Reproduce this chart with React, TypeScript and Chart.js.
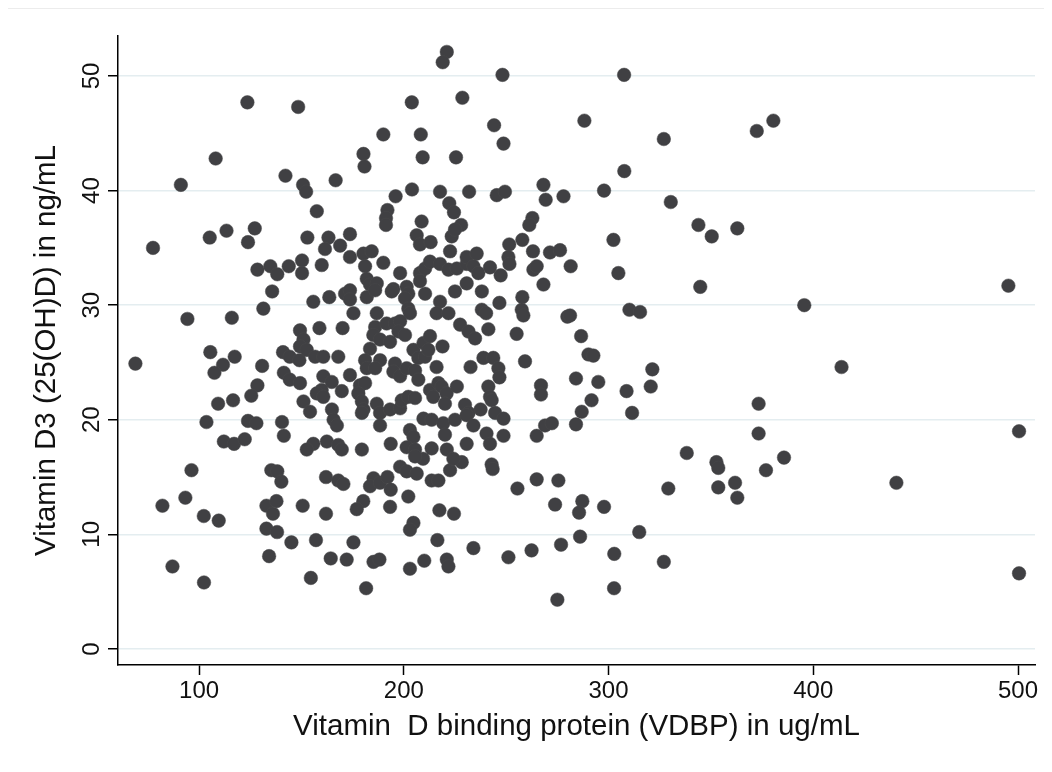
import React, { useEffect, useRef } from "react";
import { Chart, registerables } from "chart.js";

Chart.register(...registerables);

const xTitle = "Vitamin  D binding protein (VDBP) in ug/mL";
const yTitle = "Vitamin D3 (25(OH)D) in ng/mL";
const xTicks = [100, 200, 300, 400, 500];
const yTicks = [0, 10, 20, 30, 40, 50];

const vdbp = [
  123.6, 148.4, 108.1, 91.1, 142.2, 150.8, 152.3, 105.2, 113.4, 127.2, 123.9, 77.5,
  128.5, 134.8, 138.2, 143.8, 135.7, 131.4, 94.3, 116.0, 68.9, 105.5, 111.7, 107.5, 117.4, 130.8, 141.0, 144.3, 149.0, 141.4, 144.3, 128.5, 125.5, 109.3, 116.6, 103.6, 123.9, 128.0, 140.5, 141.4, 112.1, 117.1, 122.3,
  96.3, 93.3, 82.1, 102.3, 109.6, 87.0, 102.4, 135.3, 138.2, 140.2, 132.9, 137.8, 136.1, 132.9, 138.1, 145.1, 134.2,
  221.0, 219.0, 228.6, 203.9, 190.0, 208.3, 180.3, 180.8, 209.2, 225.5, 166.7, 196.0, 204.0, 217.7, 231.9, 157.5, 192.0, 191.3, 191.3, 222.2, 224.5, 228.0, 152.9, 163.2, 173.7, 161.5, 168.9, 208.7, 206.3, 207.9, 213.1, 223.4, 225.0,
  248.2, 307.6, 244.1, 288.2, 248.7, 327.0, 307.7, 245.4, 249.4, 268.2, 269.3, 278.0, 297.8, 262.8, 261.3, 251.5, 257.9, 263.1, 271.4, 276.3, 302.4,
  372.4, 380.5, 330.4, 343.9, 350.4, 362.9,
  344.8, 495.3, 395.6, 413.8, 373.3, 373.3, 500.5, 338.2, 352.7, 353.6, 385.7,
  329.2, 353.6, 361.8, 362.9, 376.9, 440.6, 327.0, 500.5,
  242.1, 251.1, 251.6, 247.3, 263.3, 264.9, 281.5, 304.8, 268.2, 238.1, 257.9, 246.7, 257.6, 258.4, 238.1, 240.2, 310.2, 315.4, 279.9, 281.2, 241.3, 255.1, 286.6, 290.2, 292.6, 238.9, 243.7, 259.2, 246.2, 246.7, 321.4, 284.1, 295.0, 320.6, 267.0, 267.0, 241.3, 242.1, 308.8, 291.7, 286.9, 311.5, 242.9, 237.5, 244.6, 248.7, 284.1, 269.0, 272.3, 264.9, 248.7, 240.4, 242.1,
  242.9, 243.4, 255.5, 264.9, 275.5, 273.9, 287.2, 285.6, 297.8, 315.0, 286.1, 276.8, 262.4, 251.1, 302.8, 302.7, 275.0,
  162.0, 168.0, 170.5, 185.2, 183.5, 188.4, 192.0, 193.6, 198.2, 201.4, 206.3, 209.4, 213.6, 216.9, 222.6, 228.3, 180.2, 177.0, 193.3, 202.2, 150.6, 162.0, 217.4, 224.5, 204.7, 203.0, 157.1, 175.4, 216.4, 234.0, 164.3, 172.1, 185.2, 188.1, 203.0, 210.0, 221.0, 221.8, 154.6, 181.6,
  150.3, 150.3, 159.9, 173.7, 180.3, 184.3, 181.1, 190.0, 198.2, 181.9, 183.5, 186.8, 194.9, 194.1, 201.4, 202.2, 207.9, 210.4, 212.8, 217.7, 222.6, 221.8, 225.9, 230.7, 230.7, 235.6, 234.0, 236.4, 230.7, 225.0,
  207.9, 210.4, 217.7, 216.0, 221.8, 227.5, 231.6, 234.8, 155.8, 163.6, 171.3, 173.7, 173.7, 175.4, 181.9, 186.0, 186.8, 200.6, 202.2, 203.0, 186.0, 185.1, 191.6, 195.7, 198.2, 197.4, 188.4, 193.3, 200.6, 183.5,
  158.8, 170.1, 149.3, 151.0, 149.3, 152.6, 156.7, 160.7, 168.0, 181.1, 181.9, 188.4, 186.0, 195.7, 194.9, 198.2, 201.4, 205.5, 207.1, 204.7, 207.1, 209.6, 212.8, 210.4, 212.0, 218.9, 216.0, 232.6,
  173.7, 160.7, 164.8, 159.9, 157.5, 160.7, 149.3, 151.0, 169.7, 178.6, 181.1, 177.8, 179.5, 180.3, 179.5, 186.8, 188.4, 193.3, 198.2, 199.0, 202.2, 205.5, 212.8, 214.4, 216.9, 218.5, 220.9, 220.1, 225.9, 229.9, 231.6,
  154.2, 164.9, 165.7, 167.3, 155.8, 152.6, 162.4, 168.0, 169.7, 179.5, 188.4, 193.6, 203.0, 204.7, 201.4, 205.5, 213.6, 209.6, 213.6, 219.3, 225.0, 230.7, 234.0, 220.1, 230.7, 221.0, 224.2, 205.5
];

const vitD3 = [
  47.7, 47.3, 42.8, 40.5, 41.3, 40.5, 39.9, 35.9, 36.5, 36.7, 35.5, 35.0,
  33.1, 33.4, 32.7, 33.4, 31.2, 29.7, 28.8, 28.9, 24.9, 25.9, 24.8, 24.1, 25.5, 24.7, 25.9, 25.5, 25.2, 24.1, 23.5, 23.0, 22.1, 21.4, 21.7, 19.8, 19.9, 19.7, 19.8, 18.6, 18.1, 17.9, 18.3,
  15.6, 13.2, 12.5, 11.6, 11.2, 7.2, 5.8, 15.6, 15.5, 14.6, 12.5, 12.9, 11.8, 10.5, 10.2, 9.3, 8.1,
  52.1, 51.2, 48.1, 47.7, 44.9, 44.9, 43.2, 42.1, 42.9, 42.9, 40.9, 39.5, 40.1, 39.9, 39.9, 38.2, 38.3, 37.6, 37.0, 38.9, 38.1, 37.0, 35.9, 35.9, 36.2, 34.9, 35.2, 37.3, 36.1, 35.3, 35.5, 36.0, 36.6,
  50.1, 50.1, 45.7, 46.1, 44.1, 44.5, 41.7, 39.6, 39.9, 40.5, 39.2, 39.5, 40.0, 37.6, 37.0, 35.3, 35.7, 34.7, 34.6, 34.8, 35.7,
  45.2, 46.1, 39.0, 37.0, 36.0, 36.7,
  31.6, 31.7, 30.0, 24.6, 21.4, 18.8, 19.0, 17.1, 16.3, 15.8, 16.7,
  14.0, 14.1, 14.5, 13.2, 15.6, 14.5, 7.6, 6.6,
  33.3, 34.2, 33.6, 32.6, 33.1, 33.4, 33.4, 32.8, 31.8, 31.2, 30.7, 30.2, 29.6, 29.1, 29.6, 29.3, 29.6, 29.4, 29.0, 29.1, 27.9, 27.5, 27.3, 25.7, 25.6, 25.4, 25.4, 25.1, 24.5, 23.7, 24.4, 23.6, 23.3, 22.9, 23.0, 22.2, 22.9, 22.0, 22.5, 21.7, 20.7, 20.6, 21.7, 20.9, 20.6, 20.1, 19.6, 19.5, 19.7, 18.6, 18.6, 18.8, 17.9,
  16.1, 15.7, 14.0, 14.8, 14.7, 12.6, 12.9, 11.9, 12.4, 10.2, 9.8, 9.1, 8.6, 8.0, 8.3, 5.3, 4.3,
  15.0, 14.7, 14.4, 14.9, 14.2, 14.5, 15.0, 13.9, 15.9, 15.5, 15.3, 16.6, 14.7, 14.7, 15.6, 16.3, 12.9, 12.2, 12.4, 13.3, 12.5, 11.8, 12.1, 11.8, 11.0, 10.4, 9.5, 9.3, 9.5, 8.8, 7.9, 7.8, 7.6, 7.8, 7.0, 7.7, 7.8, 7.2, 6.2, 5.3,
  33.9, 32.8, 33.5, 34.2, 34.5, 34.7, 33.4, 33.7, 32.8, 32.3, 31.8, 31.9, 31.4, 31.2, 31.6, 31.0, 32.8, 33.2, 33.8, 33.6, 34.7, 33.1, 33.2, 33.6, 34.2, 34.5, 33.4, 32.8, 31.9, 31.2,
  32.1, 31.0, 30.3, 29.3, 29.3, 28.3, 27.7, 27.1, 30.3, 30.7, 31.0, 31.3, 30.5, 29.3, 30.7, 31.3, 29.3, 30.6, 29.7, 29.3, 28.1, 27.4, 28.4, 28.4, 28.6, 27.7, 27.0, 26.8, 27.4, 26.2,
  28.0, 28.0, 27.8, 27.0, 26.4, 26.1, 25.5, 25.5, 25.5, 25.2, 24.5, 25.2, 24.5, 24.9, 24.2, 23.8, 24.5, 24.3, 23.5, 26.1, 25.4, 26.7, 27.3, 25.5, 26.1, 26.4, 24.6, 24.6,
  23.9, 23.8, 23.3, 22.6, 22.3, 22.0, 23.2, 21.6, 22.5, 23.0, 23.2, 22.3, 21.6, 20.9, 20.6, 21.4, 20.6, 20.9, 21.0, 21.7, 22.0, 21.9, 22.6, 22.0, 23.2, 22.9, 22.3, 21.4, 22.9, 21.3, 20.6,
  20.7, 20.9, 20.0, 19.5, 17.9, 17.4, 18.1, 17.8, 17.4, 17.4, 19.5, 17.9, 19.1, 18.5, 17.6, 17.4, 17.5, 20.1, 20.0, 19.7, 20.0, 20.4, 19.5, 18.7, 17.9, 17.4, 16.6, 16.8
];

const points = vdbp.map((x, i) => ({ x, y: vitD3[i] }));

const FONT = '"Liberation Sans", Arial, Helvetica, sans-serif';

const labelPlugin = {
  id: "stataLabels",
  beforeDraw(chart: any) {
    const ctx = chart.ctx;
    ctx.save();
    ctx.strokeStyle = "#ececec";
    ctx.lineWidth = 1;
    ctx.beginPath();
    ctx.moveTo(8, 8.5);
    ctx.lineTo(1044, 8.5);
    ctx.stroke();
    ctx.restore();
  },
  afterDraw(chart: any) {
    const ctx = chart.ctx;
    const { left, right, top, bottom } = chart.chartArea;
    const xs = chart.scales.x;
    const ys = chart.scales.y;
    ctx.save();
    ctx.fillStyle = "#111";
    ctx.textAlign = "center";
    ctx.textBaseline = "middle";
    ctx.font = `24px ${FONT}`;
    xTicks.forEach((v) => ctx.fillText(String(v), xs.getPixelForValue(v), bottom + 26));
    yTicks.forEach((v) => {
      ctx.save();
      ctx.translate(left - 26, ys.getPixelForValue(v));
      ctx.rotate(-Math.PI / 2);
      ctx.fillText(String(v), 0, 0);
      ctx.restore();
    });
    ctx.font = `29.5px ${FONT}`;
    ctx.fillText(xTitle, (left + right) / 2, bottom + 62);
    ctx.save();
    ctx.translate(left - 71, (top + bottom) / 2);
    ctx.rotate(-Math.PI / 2);
    ctx.fillText(yTitle, 0, 0);
    ctx.restore();
    ctx.restore();
  },
};

export default function App() {
  const ref = useRef<HTMLCanvasElement | null>(null);
  useEffect(() => {
    if (!ref.current) return;
    const chart = new Chart(ref.current, {
      type: "scatter",
      data: {
        datasets: [
          {
            data: points,
            backgroundColor: "rgb(64,64,67)",
            borderColor: "rgb(72,72,75)",
            borderWidth: 0.5,
            pointRadius: 6.8,
            pointHoverRadius: 6.8,
            clip: false,
          } as any,
        ],
      },
      options: {
        animation: false,
        responsive: false,
        maintainAspectRatio: false,
        events: [],
        layout: { padding: { left: 0, top: 36, right: 17, bottom: 0 } },
        plugins: { legend: { display: false }, tooltip: { enabled: false } },
        scales: {
          x: {
            type: "linear",
            min: 60.4,
            max: 508.3,
            afterBuildTicks: (s: any) => {
              s.ticks = xTicks.map((v) => ({ value: v }));
            },
            afterFit: (s: any) => {
              s.height = 107;
            },
            grid: {
              drawOnChartArea: false,
              drawTicks: true,
              tickLength: 10,
              tickColor: "#000",
              tickWidth: 1.5,
            },
            border: { display: true, color: "#000", width: 1.5 },
            ticks: { display: false },
          },
          y: {
            type: "linear",
            min: -1.4,
            max: 53.49,
            afterBuildTicks: (s: any) => {
              s.ticks = yTicks.map((v) => ({ value: v }));
            },
            afterFit: (s: any) => {
              s.width = 118;
            },
            grid: {
              color: "#e4edf0",
              lineWidth: 1.5,
              drawTicks: true,
              tickLength: 10,
              tickColor: "#000",
              tickWidth: 1.5,
            },
            border: { display: true, color: "#000", width: 1.5 },
            ticks: { display: false },
          },
        },
      } as any,
      plugins: [labelPlugin],
    });
    return () => chart.destroy();
  }, []);
  return (
    <div style={{ position: "fixed", left: 0, top: 0, width: 1052, height: 772, background: "#fff" }}>
      <canvas ref={ref} width={1052} height={772} style={{ width: 1052, height: 772 }} />
    </div>
  );
}
